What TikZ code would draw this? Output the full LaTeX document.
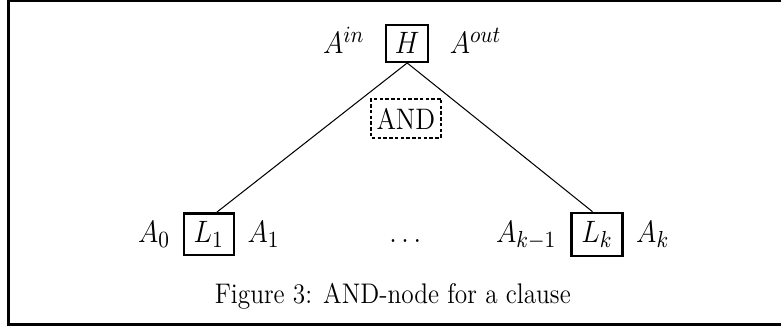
\documentclass[tikz,border=0pt]{standalone}
\usepackage{amsmath,amssymb}
\usepackage{tikz}
\usetikzlibrary{positioning}

\begin{document}
\begin{tikzpicture}[
    tall/.style={yscale=1.12, transform shape},
    lit/.style={tall, draw=black, line width=1pt, inner sep=0pt, font=\fontsize{13}{15}\selectfont},
    conj/.style={tall, draw=black, line width=0.9pt, dash pattern=on 1.5pt off 1pt, inner sep=0pt, minimum width=1.06cm, minimum height=0.536cm, font=\fontsize{11.5}{13}\selectfont},
    lbl/.style={tall, font=\fontsize{13}{15}\selectfont},
    edge/.style={line width=0.45pt, draw=black},
    frame/.style={line width=1.3pt, draw=black}
]
    \useasboundingbox (0, 0) rectangle (11.93, -5.0);

    % Frame (open on the right)
    \draw[frame] (11.93, -0.015) -- (0.13, -0.015) -- (0.13, -4.958) -- (11.93, -4.958);

    % Head of the clause
    \node[lit, minimum width=0.64cm, minimum height=0.504cm] (head) at (6.22, -0.66) {$H$};
    \node[lbl, base left=5.4pt of head] (ain) {$A^{in}$};
    \node[lbl, base right=5.4pt of head] (aout) {$A^{out}$};

    % AND label
    \node[conj] (and) at (6.20, -1.81) {AND};

    % Literals
    \node[lit, minimum width=0.765cm, minimum height=0.571cm] (lone) at (3.19, -3.58) {$L_1$};
    \node[lbl, base left=1.9pt of lone] (azero) {$A_0$};
    \node[lbl, base right=1.9pt of lone] (aone) {$A_1$};

    \node[lit, minimum width=0.78cm, minimum height=0.585cm] (lk) at (9.12, -3.58) {$L_k$};
    \node[lbl, base left=2.5pt of lk] (akm) {$A_{k-1}$};
    \node[lbl, base right=1.9pt of lk] (ak) {$A_k$};

    \node[lbl, anchor=base] (dots) at ({6.19, 0} |- aone.base) {$\ldots$};

    % Edges
    \draw[edge] (head.south) -- ([xshift=3.5pt]lone.north);
    \draw[edge] (head.south) -- ([xshift=-2pt]lk.north);

    % Caption
    \node[tall, anchor=base, font=\fontsize{11}{13}\selectfont] (caption) at (6.0, -4.63) {Figure 3: AND-node for a clause};

\end{tikzpicture}
\end{document}
